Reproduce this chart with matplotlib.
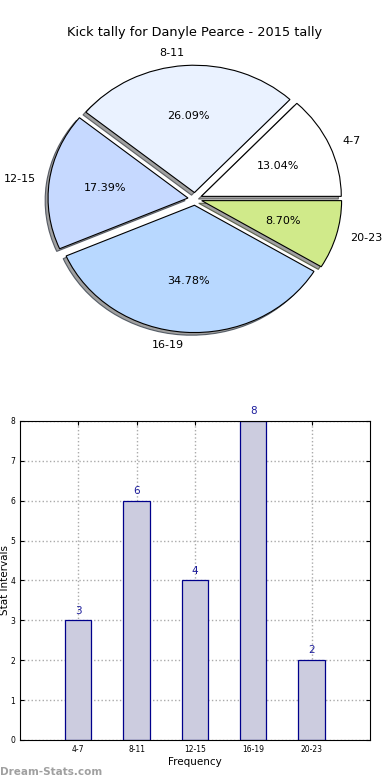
import matplotlib
matplotlib.use("Agg")
import matplotlib.pyplot as plt

# data
intervals = ["4-7", "8-11", "12-15", "16-19", "20-23"]
counts = [3, 6, 4, 8, 2]
pie_colors = ["#ffffff", "#eaf2ff", "#c6d9ff", "#b8d8ff", "#d0ea8a"]
title = "Kick tally for Danyle Pearce - 2015 tally"

fig = plt.figure(figsize=(3.9, 7.8), dpi=100)

# pie on top
ax1 = fig.add_axes([0.0513, 0.541, 0.897, 0.408])
wedges, texts, autotexts = ax1.pie(counts, labels=intervals, colors=pie_colors,
                                   explode=[0.05] * len(counts), autopct="%1.2f%%",
                                   shadow={"ox": -0.015, "oy": -0.015, "facecolor": "#888888", "alpha": 0.8},
                                   startangle=0,
                                   wedgeprops={"edgecolor": "black", "linewidth": 0.8},
                                   textprops={"fontsize": 8})
ax1.set_aspect("auto")
ax1.set_xlim(-1.25, 1.25)
ax1.set_ylim(-1.25, 1.25)
ax1.set_title(title, fontsize=9.3, pad=3)

# bars below
ax2 = fig.add_axes([0.0513, 0.0513, 0.897, 0.409])
x = list(range(len(intervals)))
bars = ax2.bar(x, counts, width=0.45, color="#ccccdf", edgecolor="#00008b", linewidth=0.9, zorder=2)
for xi, c in zip(x, counts):
    ax2.text(xi, c + 0.12, str(c), ha="center", va="bottom", fontsize=7.5, color="#1c1c9c")
ax2.set_xlim(-1, 5)
ax2.set_ylim(0, 8)
ax2.set_xticks(x)
ax2.set_xticklabels(intervals)
ax2.set_yticks(range(9))
ax2.tick_params(labelsize=5.5, direction="in", top=True, right=True, length=3)
ax2.grid(True, linestyle=":", color="#aaaaaa", linewidth=1, zorder=0)
ax2.set_axisbelow(True)
ax2.set_xlabel("Frequency", fontsize=7.5, labelpad=2)
ax2.set_ylabel("Stat Intervals", fontsize=7.5)
ax2.yaxis.set_label_coords(-0.03, 0.5)

fig.text(0.0, 0.004, "Dream-Stats.com", fontsize=7.5, fontweight="bold", color="#a0a0a0", ha="left", va="bottom")

fig.savefig("out.png", dpi=100)
